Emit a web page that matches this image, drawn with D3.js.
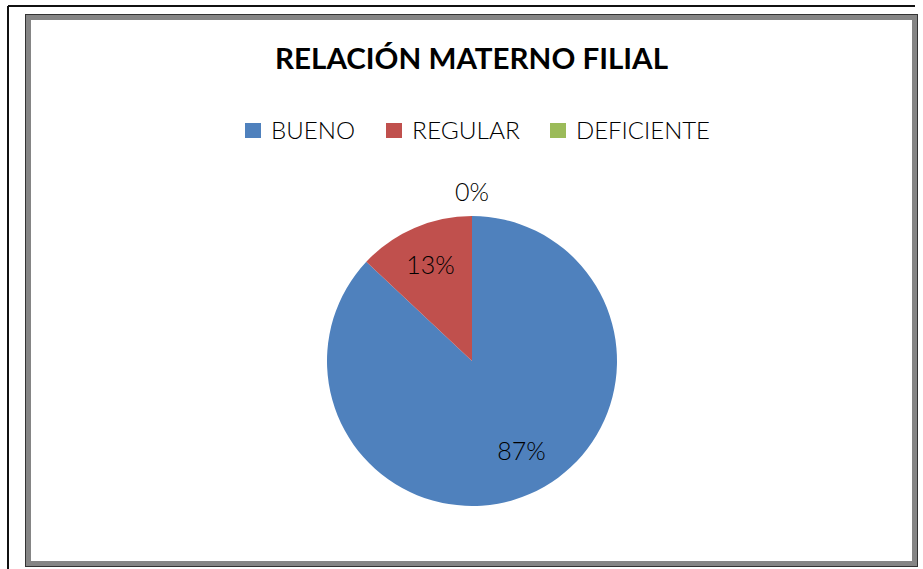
<!DOCTYPE html>
<html>
<head>
<meta charset="utf-8">
<script src="https://cdn.jsdelivr.net/npm/d3@7"></script>
<style>
  body { margin: 0; background: #fff; }
  svg { display: block; }
  text { font-family: Lato, "Open Sans", sans-serif; fill: #000; }
</style>
</head>
<body>
<div id="chart"></div>
<script>
var categories = ["BUENO", "REGULAR", "DEFICIENTE"];
var values = [87, 13, 0];
var colors = ["#4F81BD", "#C0504D", "#9BBB59"];
var title = "RELACIÓN MATERNO FILIAL";

var width = 923,
height = 569,
cx = 472,
cy = 361,
radius = 145;

var svg = d3.select("#chart").append("svg")
.attr("width", width)
.attr("height", height);

// outer frame lines (top and left only visible)
svg.append("line")
.attr("x1", 8).attr("y1", 6).attr("x2", 915).attr("y2", 6)
.attr("stroke", "#111").attr("stroke-width", 2);
svg.append("line")
.attr("x1", 8).attr("y1", 6).attr("x2", 8).attr("y2", height)
.attr("stroke", "#111").attr("stroke-width", 2);

// chart area border with grey band
svg.append("rect")
.attr("x", 25.5).attr("y", 14.5)
.attr("width", 892).attr("height", 552)
.attr("fill", "#858585")
.attr("stroke", "#333");
svg.append("rect")
.attr("x", 31).attr("y", 20)
.attr("width", 881).attr("height", 541)
.attr("fill", "#fff");

// title
svg.append("text")
.attr("x", cx - 0.5)
.attr("y", 69)
.attr("text-anchor", "middle")
.attr("font-size", 29)
.attr("font-weight", "bold")
.attr("textLength", 393)
.attr("lengthAdjust", "spacingAndGlyphs")
.text(title);

// legend
var legendX = [245, 386, 550],
legendW = [84, 108, 134];

var legend = svg.append("g").selectAll("g")
.data(categories)
.enter().append("g")
.attr("transform", function(d, i) { return "translate(" + legendX[i] + ",123)"; });

legend.append("rect")
.attr("width", 16).attr("height", 15)
.attr("fill", function(d, i) { return colors[i]; });

legend.append("text")
.attr("x", 26)
.attr("y", 16)
.attr("font-size", 23)
.attr("font-weight", 300)
.attr("textLength", function(d, i) { return legendW[i]; })
.attr("lengthAdjust", "spacingAndGlyphs")
.text(function(d) { return d; });

// pie
var pie = d3.pie().sort(null).value(function(d) { return d; });
var arcs = pie(values);

var arc = d3.arc().innerRadius(0).outerRadius(radius);
var labelArc = d3.arc().innerRadius(radius * 0.72).outerRadius(radius * 0.72);
var outerArc = d3.arc().innerRadius(radius + 24).outerRadius(radius + 24);

var g = svg.append("g")
.attr("transform", "translate(" + cx + "," + cy + ")");

g.selectAll("path")
.data(arcs)
.enter().append("path")
.attr("d", arc)
.attr("fill", function(d, i) { return colors[i]; });

var total = d3.sum(values);

// Excel nudges the big slice label a bit toward the side
var labelShift = [[8, -6], [0, 0], [0, 0]];

g.selectAll("text.lbl")
.data(arcs)
.enter().append("text")
.attr("class", "lbl")
.attr("transform", function(d, i) {
	var c = d.value > 0 ? labelArc.centroid(d) : outerArc.centroid(d);
	return "translate(" + (c[0] + labelShift[i][0]) + "," + (c[1] + labelShift[i][1]) + ")";
})
.attr("text-anchor", "middle")
.attr("dy", "0.36em")
.attr("font-size", 25)
.attr("font-weight", 300)
.text(function(d) { return Math.round(d.value / total * 100) + "%"; });
</script>
</body>
</html>
